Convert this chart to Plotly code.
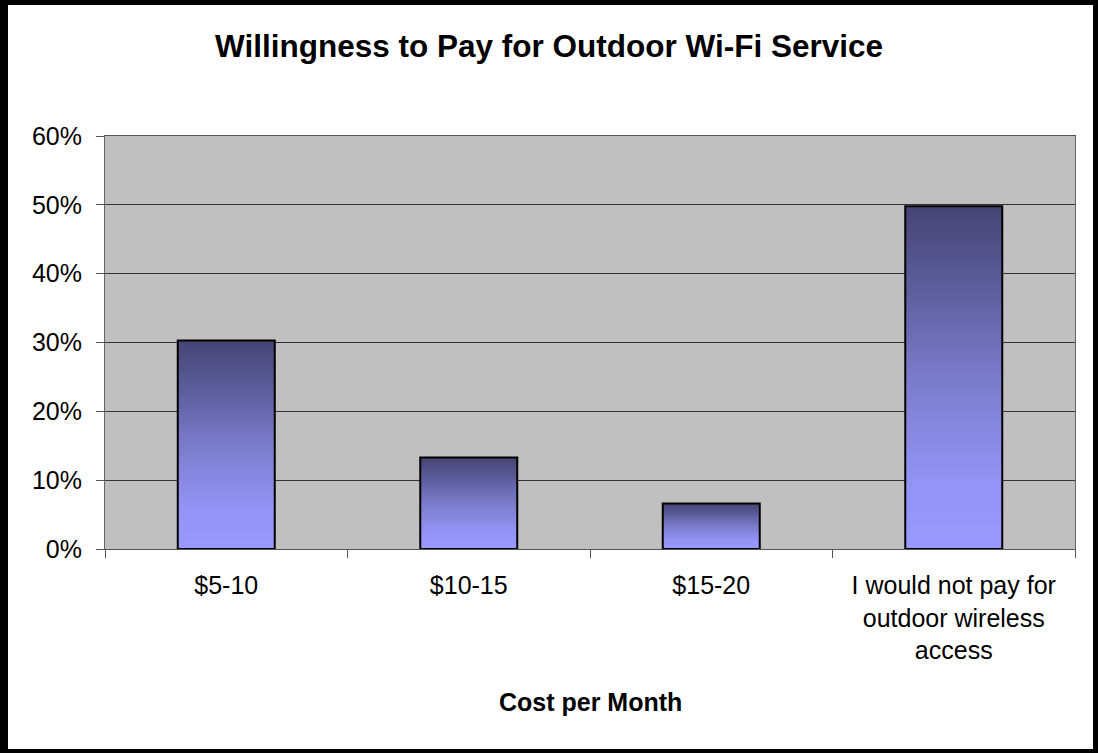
import plotly.graph_objects as go

categories = ["$5-10", "$10-15", "$15-20", "I would not pay for<br>outdoor wireless<br>access"]
values = [0.303, 0.133, 0.066, 0.498]
y_ticks = [0, 0.1, 0.2, 0.3, 0.4, 0.5, 0.6]

W, H = 1098, 753
L, R, T, B = 105, 1075, 136, 549  # plot area in pixels
pw, ph = R - L, B - T

def px_x(p):
    return (p - L) / pw

def px_y(p):
    return (B - p) / ph

bar_w = 0.4
grad = [[0, "#9999FF"], [0.2, "#9393F5"], [0.5, "#7B7BCB"], [0.75, "#5E5E9E"], [1, "#454574"]]

fig = go.Figure()
for i, v in enumerate(values):
    x0, x1 = i - bar_w / 2, i + bar_w / 2
    fig.add_trace(go.Scatter(
        x=[x0, x0, x1, x1, x0], y=[0, v, v, 0, 0],
        mode="lines", fill="toself",
        fillgradient=dict(type="vertical", colorscale=grad),
        line=dict(color="black", width=2),
        hoverinfo="skip", showlegend=False,
    ))

font_family = "Liberation Sans, Arial, sans-serif"

fig.update_layout(
    width=W, height=H,
    margin=dict(l=L, r=W - R, t=T, b=H - B, pad=0),
    paper_bgcolor="white", plot_bgcolor="#C0C0C0",
    font=dict(family=font_family, color="black", size=25),
    title=dict(text="<b>Willingness to Pay for Outdoor Wi-Fi Service</b>",
               x=0.5, xref="container", xanchor="center",
               y=1 - 46 / H, yref="container", yanchor="middle",
               font=dict(size=31.5, family=font_family, color="black")),
    showlegend=False,
)

fig.update_xaxes(
    range=[-0.5, len(categories) - 0.5],
    tickvals=list(range(len(categories))), ticktext=categories,
    ticks="", showgrid=False, zeroline=False,
    showline=True, linecolor="#555555", linewidth=1, mirror=True,
    ticklabelstandoff=14,
    tickfont=dict(size=25, family=font_family, color="black"),
    minor=dict(tick0=-0.5, dtick=1, ticks="outside", ticklen=8, tickcolor="#555555", showgrid=False),
    fixedrange=True,
)
fig.update_yaxes(
    range=[0, 0.6], tickvals=y_ticks, tickformat=".0%",
    showgrid=True, gridcolor="#333333", gridwidth=1.2, zeroline=False,
    showline=True, linecolor="#666666", linewidth=1, mirror=True,
    ticks="outside", ticklen=8, tickcolor="#555555",
    ticklabelstandoff=9,
    tickfont=dict(size=25, family=font_family, color="black"),
    fixedrange=True,
)

fig.add_annotation(
    text="<b>Cost per Month</b>", xref="paper", yref="paper",
    x=0.5, y=px_y(702), xanchor="center", yanchor="middle",
    showarrow=False, font=dict(size=25, family=font_family, color="black"),
)

# outer chart frame
for (a, b, c, d) in [(0, 8, 0, H), (0, W, 0, 5), (1093, W, 0, H), (0, W, 749, H)]:
    fig.add_shape(type="rect", xref="paper", yref="paper",
                  x0=px_x(a), x1=px_x(b), y0=px_y(d), y1=px_y(c),
                  fillcolor="black", line=dict(width=0), layer="above")

fig.write_html("out.html")
